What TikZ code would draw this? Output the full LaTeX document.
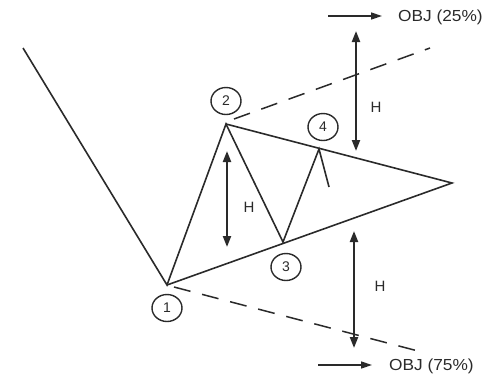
\documentclass[tikz,border=0pt]{standalone}
\usepackage{fontspec}
\setmainfont{Liberation Sans}
\newfontfamily\objfont[FakeStretch=1.08]{Liberation Sans}
\usetikzlibrary{arrows.meta,shapes.geometric}
\definecolor{ink}{HTML}{2A2A2A}
\tikzset{
  line/.style={draw=ink, line width=1.6pt, line join=miter},
  dline/.style={draw=ink, line width=1.5pt, dash pattern=on 17pt off 12pt},
  harrow/.style={draw=ink, line width=2.1pt, {Triangle[length=11pt,width=8pt]}-{Triangle[length=11pt,width=8pt]}},
  objarrow/.style={draw=ink, line width=1.5pt, -{Triangle[length=11pt,width=7pt]}},
  wave/.style={ellipse, draw=ink, line width=1.4pt, minimum width=30pt, minimum height=27pt, inner sep=0pt, font=\fontsize{14}{14}\selectfont, text=ink},
  hlab/.style={font=\fontsize{15}{15}\selectfont, text=ink, inner sep=0pt},
  objlab/.style={font=\objfont\fontsize{16}{16}\selectfont, text=ink, inner sep=0pt},
}
\begin{document}
\begin{tikzpicture}[x=1pt,y=-1pt]
\useasboundingbox (0,0) rectangle (485,378);
% vertices
\coordinate (s) at (23,48);
\coordinate (p1) at (167,285);
\coordinate (p2) at (226,124);
\coordinate (p3) at (283,242);
\coordinate (p4) at (319,149);
\coordinate (t4) at (329,187);
\coordinate (ap) at (452,183);
% price path
\draw[line] (s) -- (p1) -- (p2) -- (p3) -- (p4) -- (t4);
% triangle
\draw[line] (p2) -- (ap) -- (p1);
% dashed projections
\coordinate (d2s) at (234,119);
\coordinate (d2e) at (430,48);
\coordinate (d1s) at (174,287);
\coordinate (d1e) at (418,351);
\draw[dline] (d2s) -- (d2e);
\draw[dline] (d1s) -- (d1e);
% wave labels
\node[wave] (c1) at (167,308) {1};
\node[wave] (c2) at (226,101) {2};
\node[wave] (c3) at (286,267) {3};
\node[wave] (c4) at (323,127) {4};
% H arrows
\coordinate (hm1) at (227,151);
\coordinate (hm2) at (227,247);
\draw[harrow] (hm1) -- (hm2);
\node[hlab] (hm) at (249,207) {H};
\coordinate (hu1) at (356,31);
\coordinate (hu2) at (356,151);
\draw[harrow] (hu1) -- (hu2);
\node[hlab] (hu) at (376,107) {H};
\coordinate (hl1) at (354,231);
\coordinate (hl2) at (354,348);
\draw[harrow] (hl1) -- (hl2);
\node[hlab] (hl) at (380,286) {H};
% objectives
\node[objlab, anchor=west] (o25) at (398,17) {OBJ (25\%)};
\coordinate (a25) at (328,16);
\draw[objarrow] (a25) -- (382,16);
\node[objlab, anchor=west] (o75) at (389,366) {OBJ (75\%)};
\coordinate (a75) at (318,365);
\draw[objarrow] (a75) -- (372,365);
\end{tikzpicture}
\end{document}
